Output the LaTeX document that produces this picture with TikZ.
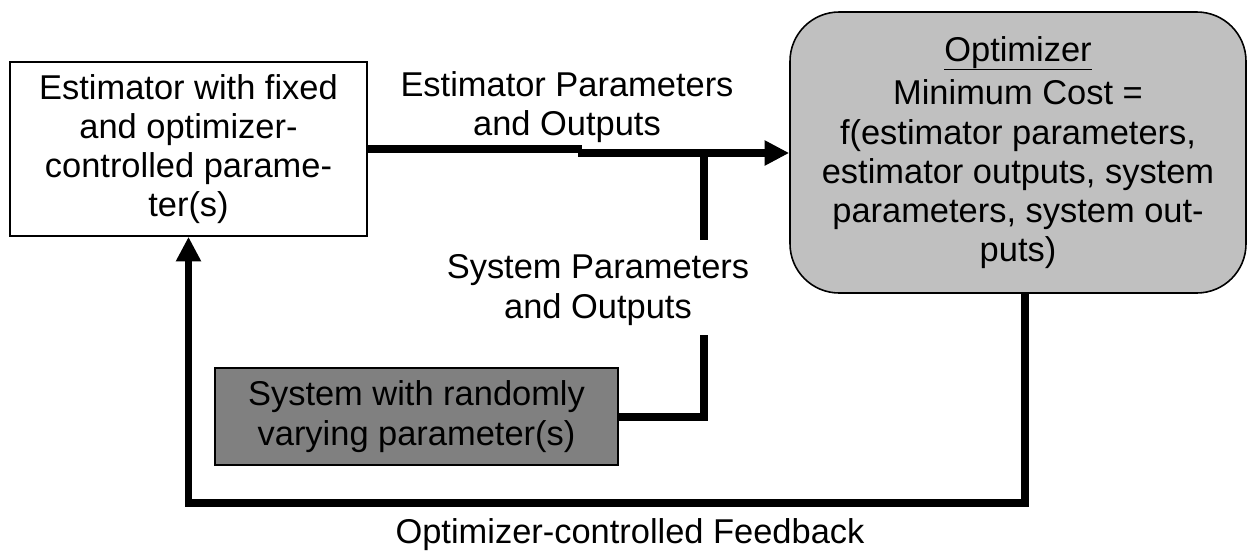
\documentclass[tikz,border=0pt]{standalone}
\usepackage{fontspec}
\setmainfont{Liberation Sans}
\usetikzlibrary{arrows.meta}
\begin{document}
\begin{tikzpicture}[x=0.02cm,y=-0.02cm,
  txt/.style={font=\fontsize{19.6}{22.3}\selectfont, align=center, inner sep=0pt},
  box/.style={txt, draw=black, line width=0.9pt},
  conn/.style={line width=4.5pt, line join=miter},
  arr/.style={conn, -{Triangle[length=14pt,width=13.5pt]}}]
\useasboundingbox (0,0) rectangle (1258,555);
\node[box, minimum width=357*0.02cm, minimum height=174*0.02cm] (est) at (188.5,149)
  {Estimator with fixed\\and optimizer-\\controlled parame-\\ter(s)};
\node[box, fill={rgb,255:red,192;green,192;blue,192}, rounded corners=28pt,
  minimum width=456*0.02cm, minimum height=281*0.02cm] (opt) at (1018,152.5)
  {\underline{\raisebox{0pt}[\height][3pt]{Optimizer}}\\[2.5pt]Minimum Cost =\\f(estimator parameters,\\estimator outputs, system\\parameters, system out-\\puts)};
\node[box, fill={rgb,255:red,128;green,128;blue,128},
  minimum width=403*0.02cm, minimum height=97*0.02cm] (sys) at (416.5,416.5)
  {System with randomly\\varying parameter(s)};
\node[txt] (lblE) at (567,107) {Estimator Parameters\\and Outputs};
\node[txt] (lblS) at (598,290) {System Parameters\\and Outputs};
\node[txt] (lblF) at (630,535) {Optimizer-controlled Feedback};
\coordinate (j1) at (582,149);
\coordinate (j2) at (578,153);
\coordinate (v1) at (704,153);
\coordinate (v2) at (704,240);
\coordinate (v3) at (704,335);
\coordinate (v4) at (704,417);
\coordinate (f1) at (1025,503);
\draw[conn] (j1 -| est.east) -- (j1);
\draw[arr] (j2) -- (j2 -| opt.west);
\draw[conn] (v1) -- (v2);
\draw[conn] (v3) -- (v4) -- (v4 -| sys.east);
\draw[arr] (f1 |- opt.south) -- (f1) -| (est.south);
\end{tikzpicture}
\end{document}
